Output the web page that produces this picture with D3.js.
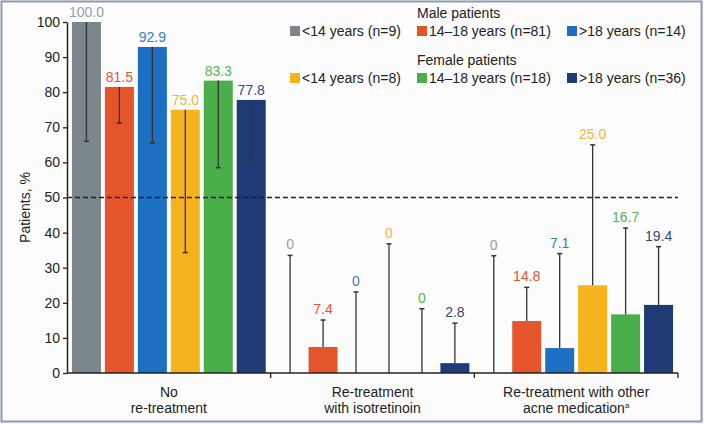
<!DOCTYPE html>
<html><head><meta charset="utf-8">
<script src="https://cdn.jsdelivr.net/npm/d3@7"></script>
<style>
html,body{margin:0;padding:0;background:#fff;}
svg{display:block;font-family:"Liberation Sans",Arial,sans-serif;}
</style></head>
<body>
<svg id="chart" width="704" height="424"></svg>
<script>
const categories = [["No","re-treatment"],["Re-treatment","with isotretinoin"],["Re-treatment with other","acne medication"]];
const seriesNames = ["<14 years (n=9)","14\u201318 years (n=81)",">18 years (n=14)","<14 years (n=8)","14\u201318 years (n=18)",">18 years (n=36)"];
const seriesColors = ["#7b868d","#e5552b","#1c6fc2","#f6b31e","#4aae4b","#1f3b75"];
const labelColors = ["#97a2a8","#e5552b","#3a7cc6","#f2b538","#55b455","#34457f"];
const values = [
  [100.0, 81.5, 92.9, 75.0, 83.3, 77.8],
  [0, 7.4, 0, 0, 0, 2.8],
  [0, 14.8, 7.1, 25.0, 16.7, 19.4]
];
const valueLabels = [
  ["100.0","81.5","92.9","75.0","83.3","77.8"],
  ["0","7.4","0","0","0","2.8"],
  ["0","14.8","7.1","25.0","16.7","19.4"]
];
// error-bar end (lower CI in first group, upper CI otherwise)
const errorEnds = [
  [66.0, 71.2, 65.6, 34.3, 58.5, 60.5],
  [33.5, 15.1, 23.1, 36.8, 18.3, 14.2],
  [33.4, 24.4, 34.0, 65.0, 41.3, 36.0]
];
const yTicks = [0,10,20,30,40,50,60,70,80,90,100];
const refLine = 50;

const svg = d3.select("#chart");
// background and frame
svg.append("rect").attr("x",0).attr("y",0).attr("width",704).attr("height",424).attr("fill","#f4f6f9");
svg.append("rect").attr("x",1.5).attr("y",1.5).attr("width",700).attr("height",420)
  .attr("fill","#fdfdfd").attr("stroke","#8c9bb0").attr("stroke-width",2);

const x0 = 67, x1 = 678, yBase = 373, yTop = 22;
const y = d3.scaleLinear().domain([0,100]).range([yBase,yTop]);
const gx = d3.scaleBand().domain(d3.range(categories.length)).range([x0,x1]).padding(0);
const bx = d3.scaleBand().domain(d3.range(seriesNames.length)).range([0,gx.bandwidth()])
  .paddingInner(0.12).paddingOuter(0.15);

// y axis
const yAxis = d3.axisLeft(y).tickValues(yTicks).tickSize(4).tickSizeOuter(0).tickPadding(3);
const ya = svg.append("g").attr("transform",`translate(${x0},0)`).call(yAxis);
ya.select(".domain").attr("stroke","#222").attr("stroke-width",1.5);
ya.selectAll(".tick line").attr("stroke","#222").attr("stroke-width",1.3);
ya.selectAll(".tick text").attr("fill","#222").style("font-size","14px").style("font-family","Liberation Sans, Arial, sans-serif");

svg.append("text").attr("transform",`translate(30,${(yBase+yTop)/2+10}) rotate(-90)`)
  .attr("text-anchor","middle").attr("fill","#222").style("font-size","14px").text("Patients, %");

// bars
const groups = svg.selectAll("g.grp").data(values).join("g").attr("class","grp")
  .attr("transform",(d,i)=>`translate(${gx(i)},0)`);
groups.each(function(row,gi){
  const g = d3.select(this);
  row.forEach((v,si)=>{
    const bxPos = bx(si), w = bx.bandwidth();
    if (v>0) g.append("rect").attr("x",bxPos).attr("y",y(v)).attr("width",w).attr("height",yBase-y(v)).attr("fill",seriesColors[si]);
  });
});

// dashed reference line
svg.append("line").attr("x1",x0).attr("x2",x1).attr("y1",y(refLine)).attr("y2",y(refLine))
  .attr("stroke","#222").attr("stroke-width",1.5).attr("stroke-dasharray","5,3");

// error bars and labels
groups.each(function(row,gi){
  const g = d3.select(this);
  row.forEach((v,si)=>{
    const cx = bx(si)+bx.bandwidth()/2;
    const e = errorEnds[gi][si];
    g.append("line").attr("x1",cx).attr("x2",cx).attr("y1",y(v)).attr("y2",y(e)).attr("stroke","#333").attr("stroke-width",1.3);
    g.append("line").attr("x1",cx-2.5).attr("x2",cx+2.5).attr("y1",y(e)).attr("y2",y(e)).attr("stroke","#333").attr("stroke-width",1.5);
    const top = Math.max(v,e);
    g.append("text").attr("x",cx).attr("y",y(top)-(gi===0?5:6)).attr("text-anchor","middle")
      .attr("fill",labelColors[si]).style("font-size","14px").text(valueLabels[gi][si]);
  });
});

// x axis
svg.append("line").attr("x1",x0).attr("x2",x1).attr("y1",yBase).attr("y2",yBase).attr("stroke","#222").attr("stroke-width",1.5);
d3.range(categories.length).forEach(i=>{
  const xe = gx(i)+gx.bandwidth();
  svg.append("line").attr("x1",xe).attr("x2",xe).attr("y1",yBase).attr("y2",yBase+5).attr("stroke","#222").attr("stroke-width",1.3);
  const cx = gx(i)+gx.bandwidth()/2;
  const t = svg.append("text").attr("text-anchor","middle").attr("fill","#222").style("font-size","14px");
  t.append("tspan").attr("x",cx).attr("y",397).text(categories[i][0]);
  const t2 = t.append("tspan").attr("x",cx).attr("y",413).text(categories[i][1]);
  if (i===2) t.append("tspan").attr("dy",-5).style("font-size","8px").text("a");
});

// legend
const legHeads = ["Male patients","Female patients"];
const legX = [290,417,567], legY = [31,78];
legHeads.forEach((h,r)=>{
  svg.append("text").attr("x",417).attr("y",legY[r]-13).attr("fill","#222").style("font-size","14px").text(h);
});
seriesNames.forEach((n,i)=>{
  const r = Math.floor(i/3), c = i%3;
  svg.append("rect").attr("x",legX[c]).attr("y",legY[r]-5).attr("width",10).attr("height",10).attr("fill",seriesColors[i]);
  svg.append("text").attr("x",legX[c]+12).attr("y",legY[r]+5).attr("fill","#222").style("font-size","14px").text(n);
});
</script>
</body></html>
